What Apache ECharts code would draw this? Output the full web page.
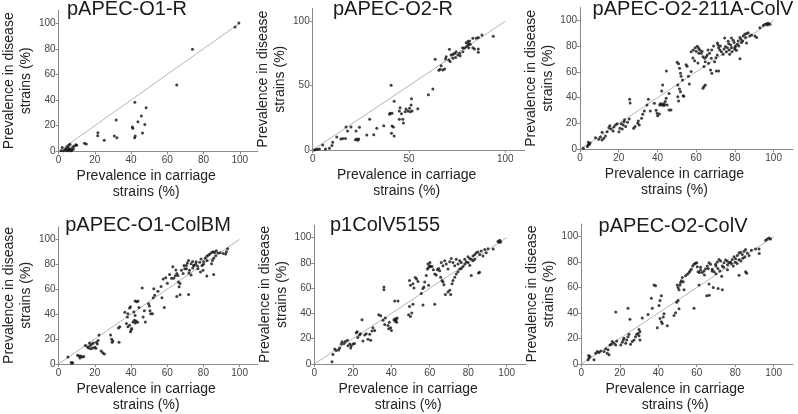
<!DOCTYPE html>
<html><head><meta charset="utf-8">
<script src="https://cdn.jsdelivr.net/npm/echarts@6/dist/echarts.min.js"></script>
<style>html,body{margin:0;padding:0;background:#fff}#c{width:798px;height:414px}</style>
</head><body><div id="c"></div>
<script>
// Panel titles
const panelTitles = ['pAPEC-O1-R','pAPEC-O2-R','pAPEC-O2-211A-ColV','pAPEC-O1-ColBM','p1ColV5155','pAPEC-O2-ColV'];
const xAxisName = 'Prevalence in carriage\nstrains (%)';
const yAxisName = 'Prevalence in disease\nstrains (%)';
const ticks20 = [0,20,40,60,80,100];
const ticks50 = [0,50,100];
const diagonal = [[0,0],[100,100]];

// [carriage %, disease %]
const o1R = [[99.5,100],[97.4,97],[73.9,79.7],[65.2,51.7],[42.1,38.2],[48.3,34],[45.7,27.5],[31.8,24.4],[43.8,23],[47.6,21],[40.7,19],[41,18],[21.7,14.5],[21.6,12.2],[30.8,12],[32.2,10.6],[42.3,12],[42,10.6],[46.3,14.3],[25.2,8.6],[14.3,6.2],[15.3,5.7],[1.4,0.5],[2,3],[2.6,0.5],[4,2],[4.7,3.6],[5.2,2.6],[5.6,4.7],[6.3,5.5],[6.6,1.8],[7.5,1],[7.8,3.4],[8.7,4.2],[9.6,5.2],[10,4.7],[3.5,1.3],[4.3,0.5],[7,0.5],[8.2,1.8],[6,1.8],[5.2,1],[5.7,0.5]];

const o2R = [[93.8,88.3],[87.9,89.4],[86,87.3],[85,86.8],[83.2,86.8],[81.5,84.7],[80.6,84.2],[79.7,83.4],[81,82.6],[81.8,82.1],[80.6,81.3],[79.7,80.3],[81,79.5],[78.7,79],[77.8,79.5],[83.2,79.5],[84,78.5],[86,78.5],[86,76],[78,76.3],[76.3,75.1],[75.4,73.8],[76.6,73.3],[74.5,76.3],[73.7,75.1],[72.8,74.4],[71.9,73.8],[71,78.2],[69.3,72.5],[69,70.7],[70.7,69.9],[72.8,71.2],[74.2,71.8],[71.4,68.7],[63.6,70.5],[66.7,65.5],[66.2,62.7],[65.5,61.9],[67.6,62.2],[68.5,63],[62.4,47.4],[60.1,43],[51.3,39.9],[51.1,35],[50.3,32.4],[51.6,30.3],[49.4,30.3],[50.6,29.8],[48.5,31.9],[48,29.8],[54.6,32.1],[42.3,37.8],[40.7,50.3],[40.2,28.5],[41.2,28.5],[39.9,27.7],[45,30.3],[46.1,28.2],[45,23.8],[46.8,23.8],[47.1,21],[45.4,32.9],[41.2,18.7],[41.9,17.9],[40.9,13],[42.3,10.9],[36.9,18.9],[33.3,16.8],[31.7,11.9],[28.1,11.7],[29.6,23.8],[24.3,17.6],[22.5,14.8],[19.9,17.9],[17.3,17.9],[18.1,14.8],[22.9,8.5],[23.4,7.5],[23.9,8.5],[22.2,8],[14.6,8.5],[15.6,9],[17,9],[12.5,10.1],[10.4,6],[10,3.4],[8.7,1.3],[6.6,0.8],[5.2,3.9],[0.9,0],[1.7,0.3],[2.6,0.5],[3.5,0.8]];

const o2ColV211A = [[1.7,0.8],[3.8,2.1],[4.3,3.4],[4.8,3.9],[5.2,4.9],[4.3,5.4],[8,9],[9.7,7.8],[11.4,7.2],[12.3,8.5],[10.6,9.6],[13.1,10.3],[11.4,13.2],[14,13.7],[14.9,16.8],[15.4,18.3],[16.1,15.8],[17.1,14.2],[17.5,17.3],[18.3,18.9],[19.2,19.9],[20.1,13.7],[20.6,16.3],[21.8,15.8],[22.3,18.9],[22.7,21.4],[23,23],[21.3,19.9],[23.6,17.6],[24.5,20.9],[25.4,23.5],[25.9,35.9],[25.6,38.8],[27.7,16.3],[28.4,17.6],[29.8,20.2],[30.1,22],[30.6,18.9],[31.8,24],[32.4,27.1],[33.2,29.7],[34.6,34.4],[35.3,38.8],[36.3,29.7],[38.4,35.7],[39.3,30.2],[39.8,27.9],[40.1,26.1],[41,27.4],[41.2,34.4],[41.5,35.4],[42.2,34.4],[42.7,35.4],[43.3,33.9],[43.6,34.9],[44,37],[44.5,39.5],[45,34.4],[42.2,45.2],[42.7,49.9],[44.6,60.7],[46,43.2],[46,30.5],[47,30.5],[50.5,49.9],[51.4,46.8],[51.9,44.7],[50.5,40.8],[50.9,37.5],[53.3,41.6],[53.6,41.1],[50.2,67.4],[50.9,66.4],[51.4,62.8],[51.9,58.9],[52.2,56.6],[52.9,53.7],[54.8,65.6],[55.3,64.3],[56,56.6],[56.5,50.6],[57.4,60.4],[58.3,70.8],[59.2,68.7],[60.9,66.9],[61.3,74.4],[57.4,75.7],[58.5,77],[59.5,78.8],[60.6,79.8],[61.3,78.3],[61.8,77],[62.6,74.4],[63.5,71.8],[64.4,70.5],[65.2,71.8],[65.7,73.1],[64.7,67.9],[64,64.1],[63.5,47.3],[64,48.6],[64.7,49.9],[66.1,77],[66.9,74.4],[67.8,70.5],[66.4,66.7],[67.4,61.5],[68.1,58.9],[69.5,67.9],[70.2,71],[70.9,73.1],[70.4,60.7],[71.6,60.7],[71.3,80.9],[71.6,78.8],[72.2,77],[73,75.7],[73.9,73.6],[74.4,77.8],[75.1,79.6],[75.6,75.7],[76.1,78.8],[76.8,81.9],[77.9,80.9],[78.2,78.8],[79.1,84.5],[79.6,82.7],[80.3,80.1],[80.8,76.7],[81.3,81.4],[81.7,84],[82.6,86.6],[83.1,85.3],[83.4,82.7],[84.3,87.9],[85.1,89.1],[85.5,86.6],[86,89.7],[86.9,90.4],[87.7,87.9],[88.6,88.6],[82.6,70.1],[86,82.4],[79.9,77.5],[78.5,75.7],[77.3,73.6],[92.9,94.3],[94.6,95.9],[95.5,96.9],[96.4,97.4],[97.2,97.7],[98.1,96.9],[96.9,96.4],[90.3,87.9],[91.2,86.6],[78.2,86.3],[76.5,83.7],[74.7,86.3],[71,82.5],[72.5,80],[80,79],[82,80],[84,84],[77,77],[68,77],[69,80],[63,76],[60,76]];

const o1ColBM = [[5.2,5.7],[7,1.3],[7.8,1],[7.3,0.8],[10.5,7],[11.3,6.5],[12.2,6.5],[13.1,5.7],[13.9,6],[11.8,4.9],[14.8,14.8],[16,13.7],[17.4,14.8],[17.1,16.8],[18.3,15.8],[19.2,16.8],[16.6,12.9],[17.8,12.2],[18.8,12.9],[20,13.5],[20.6,12.7],[20.9,17.4],[21.8,18.9],[22.3,23.3],[21.4,16],[23.5,10.4],[24.4,9.1],[25.3,8],[28.7,23.3],[29.3,19.9],[30,18.4],[29.6,17.4],[33.4,17.4],[33.1,28.8],[33.8,29.8],[36.6,41.5],[38.3,40.2],[38,37.6],[39.2,44.8],[39.7,45.9],[37.5,32.4],[38.3,29.8],[39.2,31.1],[40.1,27.2],[40.4,28.5],[39.7,25.9],[41.1,33.7],[41.9,35],[42.3,32.9],[42.8,34.5],[43.6,33.4],[42.3,38.9],[41.6,41.7],[42.3,50.5],[43.2,50],[43.9,50.5],[44.4,45.3],[46.2,60.9],[46.7,37.6],[47.9,33.7],[47.4,42.7],[49.7,48.4],[50.2,46.6],[50.5,42.7],[50.9,40.2],[51.9,40.2],[52.3,53.1],[53.1,55.2],[52.6,60.4],[54.9,58.3],[56.6,62.2],[57.1,53.1],[58.4,45.3],[57.8,68.1],[59.2,69.2],[60.1,64.8],[61.3,71.8],[62.4,68.7],[63.6,68.7],[64.5,70.7],[65.3,72.5],[63.1,78],[64.8,75.4],[65.9,71],[66.2,65.8],[67.1,64.6],[66.6,62],[65.3,54.2],[67.1,55.5],[68.8,72.5],[69.7,76.4],[70.6,79],[71.1,81],[71.8,82.9],[72.3,75.1],[73.2,71.3],[74.1,77],[74.6,79],[71.8,55.7],[75.8,80.3],[76.7,78.5],[77,76.4],[78,81.6],[78.7,84.2],[79.3,79],[80.1,82.1],[81,84.7],[81.9,86.3],[82.8,87.3],[83.6,88.1],[84.5,89.4],[85.4,89.9],[86.2,89.4],[87.1,90.7],[88,88.9],[86.8,86.8],[85.7,84.7],[85,82.9],[84.5,80.3],[81.9,70.5],[85.7,71.8],[92.3,88.1],[92.7,89.9],[93.4,92.5],[89.2,89.1],[90.9,88.6],[73.2,80.3],[74,82.1],[74.9,79],[70.6,76.4],[67.9,75.1],[69.3,79],[78.4,73.8],[79.8,75.1],[82,83],[80,80],[76,82],[72,73]];

const p1ColV5155 = [[9.2,1.8],[9.7,7.5],[10.6,11.9],[11.4,10.6],[12.7,11.1],[13.2,12.7],[14,15.8],[14.4,17.6],[15.4,16.3],[16.1,17.8],[17.2,18.9],[17.5,14.5],[18.4,15.8],[18.9,12.7],[19.2,14.5],[20.1,15.8],[20.9,16.3],[21.8,24.8],[22.3,25.6],[22.6,20.9],[23.5,23],[24,24],[24.8,35.1],[25.3,18.3],[26.2,23],[27,24],[27.9,19.6],[28.8,23.5],[29.3,18.9],[30,26.1],[30.5,28.7],[31.4,26.6],[33.5,39],[34.5,38.2],[35.7,34.6],[36.6,31.3],[36.9,36.4],[38.3,30.5],[39,33.1],[40.1,26.6],[39.7,28.7],[38.7,27.9],[36.2,61],[36.2,58.9],[41.4,35.1],[42.1,35.9],[42.6,35.1],[43.1,36.4],[42.1,33.9],[42.8,33.1],[41.8,49.9],[43.5,49.9],[49,39],[50,37.7],[50.7,40.3],[49.5,45.5],[51.3,47.3],[49.5,66.1],[50,62.3],[51.3,63.6],[51.8,60.2],[52.5,68.5],[53.2,67.4],[53.9,65.4],[55.6,55.8],[56.5,46.8],[57.4,64.9],[58.2,70],[58.8,75.2],[59.4,76.5],[60,77.8],[60.5,77.3],[59.4,62.3],[61.9,74.7],[62.6,71.3],[63.4,70.5],[64,74.7],[64.6,75.7],[65.2,73.9],[65.7,68.7],[66.4,66.1],[66.9,64.9],[67.4,62.8],[68.1,55],[69.5,57.1],[70.4,58.4],[70.9,55],[71.6,63.6],[72.1,66.1],[73,68.7],[73.8,71.3],[74.7,73.1],[75.6,75.2],[76.4,75.7],[77.3,77.3],[78.2,79.1],[79,80.9],[79.9,80.4],[80.8,78.3],[81.6,82.9],[82.5,85.5],[83.4,86.8],[84.2,88.1],[85.1,88.6],[86,86.8],[86.8,89.4],[87.7,85.5],[88.6,90.7],[89.4,88.1],[90.3,91.2],[59.1,79.1],[60.1,80.4],[61.2,77.3],[66,80.4],[66.9,77.8],[67.8,81.7],[68.6,79.1],[69.5,75.2],[70.4,80.9],[71.2,83.5],[72.1,80.4],[73,77.8],[73.8,82.9],[74.7,79.1],[75.6,81.7],[76.4,80.4],[78.2,82.9],[79.9,85],[80.8,83.5],[82.5,81.7],[83.4,82.9],[81.6,70],[85.4,72.1],[85.9,72.6],[95.5,97.2],[96.4,98],[96.9,96.7],[96,96.4],[93,91],[62.6,47.3],[56.5,59.7],[57,61]];

const o2ColV = [[3.5,3.4],[4,4.7],[4.5,5.9],[3.8,6.7],[6.6,3.4],[7.5,8.5],[8.3,9.8],[9.2,9],[10.1,10.3],[11.8,9.8],[12.7,11.9],[13.5,8.5],[14.4,7.2],[13.9,11.1],[14.9,15],[15.6,15.5],[16.1,17.6],[17,16.3],[17.9,15],[18.4,18.1],[17.9,40.8],[20.5,15],[21.3,17.1],[21.8,18.9],[22.2,20.2],[23.1,16.3],[23.6,18.9],[24.3,21.4],[24.8,23.3],[24.3,43.9],[25.3,35.1],[25.6,15.5],[26.5,17.6],[27.4,18.9],[28.2,21.4],[28.8,23.3],[29.5,24],[30,22.2],[30.5,18.9],[30,27.1],[30.5,25.3],[31.7,36.2],[34.7,38.8],[36.4,51.7],[36.9,43.9],[37.8,62],[38.6,61.5],[39.5,28.4],[40.4,46],[40.9,49.9],[41.6,53.7],[40.9,35.7],[41.6,33.1],[42.1,31.8],[42.6,37],[43,39.5],[44.7,30],[48.2,38.2],[49,40.3],[49.6,48.6],[50.3,49.9],[50.8,43.4],[49.9,62],[50.3,60.2],[50.8,58.4],[51.3,62],[51.6,64.1],[52,65.4],[52.5,68],[53,64.6],[53.4,58.4],[54.2,69.3],[55.1,70.5],[56,71.8],[56.5,73.1],[57.2,74.4],[57.9,77],[58.6,78.3],[59.3,79.1],[60,79.6],[60.3,76.5],[60.7,72.4],[61.4,71.8],[62,73.9],[62.9,71.8],[63.8,73.1],[64.6,74.9],[65.5,77],[66.4,79.6],[67.2,78.3],[68.1,74.4],[69,72.4],[69.8,78.3],[70.7,80.1],[71.6,82.2],[72.4,80.9],[73.3,77],[74.2,79.6],[75,81.7],[75.9,80.9],[76.8,79.6],[77.6,80.1],[78.5,82.2],[79.4,84.2],[80.2,82.7],[81.1,85.3],[82,87.3],[82.8,87.9],[83.7,86],[84.6,88.6],[85.4,89.9],[86.3,87.3],[87.2,85.3],[88.4,89.4],[90.6,90.4],[61.2,62],[66.4,62.8],[68.6,60.2],[71.1,59.4],[73.3,58.4],[65.2,53.7],[82,69.8],[85.4,72.4],[86,71.3],[92.4,90.4],[92.5,86.8],[95.8,97.2],[96.7,98.2],[97.6,99],[98.4,98.2],[58.6,43.9],[62,76],[64,70],[66,75],[68,73],[70,77],[71,75],[72,73],[74,76],[76,78],[78,79],[79,77],[80,80],[81,79],[82,82],[83,81],[84,83],[85,84],[73,69],[70,71],[76,74],[66.5,54]];

const panelData = [o1R, o2R, o2ColV211A, o1ColBM, p1ColV5155, o2ColV];
const panelTicks = [ticks20, ticks50, ticks20, ticks20, ticks20, ticks20];

// layout (pixels)
const grids = [
  {left:46.7, top:10.3, width:211.2, height:141},
  {left:312.7, top:8.4, width:211.8, height:141.6},
  {left:580, top:7.4, width:213, height:141.9},
  {left:46.7, top:226.8, width:211, height:141.5},
  {left:314.3, top:225.1, width:211.6, height:141.9},
  {left:581.3, top:224, width:211.6, height:142}
];
const titlePos = [[127,-1],[393,-1],[693,-1],[148,215],[385,215],[673,216]];

const FONT = '"Liberation Sans", Arial, sans-serif';
const axisCommon = (ticks, isX) => ({
  type:'value', min:0, max:110,
  splitLine:{show:false},
  axisLine:{show:true, lineStyle:{color:'#8a8a8a', width:1}},
  axisTick:{show:true, length:3, customValues:ticks, lineStyle:{color:'#8a8a8a'}},
  axisLabel:{customValues:ticks, color:'#444', fontSize:10, fontFamily:FONT, margin: isX ? 4 : 3},
  name: isX ? xAxisName : yAxisName,
  nameLocation:'middle',
  nameGap: isX ? 17 : 11,
  nameTextStyle: isX
    ? {color:'#222', fontSize:14, fontFamily:FONT, lineHeight:16, padding:[0,24,0,0]}
    : {color:'#222', fontSize:14, fontFamily:FONT, lineHeight:17}
});

const option = {
  animation:false,
  backgroundColor:'#fff',
  title: panelTitles.map((t,i)=>({text:t, left:titlePos[i][0], top:titlePos[i][1], textAlign:'center', padding:0,
    textStyle:{fontSize:20, fontWeight:'normal', color:'#1a1a1a', fontFamily:FONT}})),
  grid: grids.map(g=>Object.assign({containLabel:false}, g)),
  xAxis: panelTicks.map((t,i)=>Object.assign({gridIndex:i}, axisCommon(t,true))),
  yAxis: panelTicks.map((t,i)=>Object.assign({gridIndex:i}, axisCommon(t,false))),
  series: []
};
panelData.forEach((d,i)=>{
  option.series.push({type:'line', xAxisIndex:i, yAxisIndex:i, data:diagonal, symbol:'none', silent:true,
    lineStyle:{color:'#b5b5b5', width:1}, z:1});
  option.series.push({type:'scatter', xAxisIndex:i, yAxisIndex:i, data:d, symbol:'circle', symbolSize:3,
    itemStyle:{color:'#111'}, z:2});
});
const chart = echarts.init(document.getElementById('c'), null, {renderer:'canvas'});
chart.setOption(option);
</script></body></html>
